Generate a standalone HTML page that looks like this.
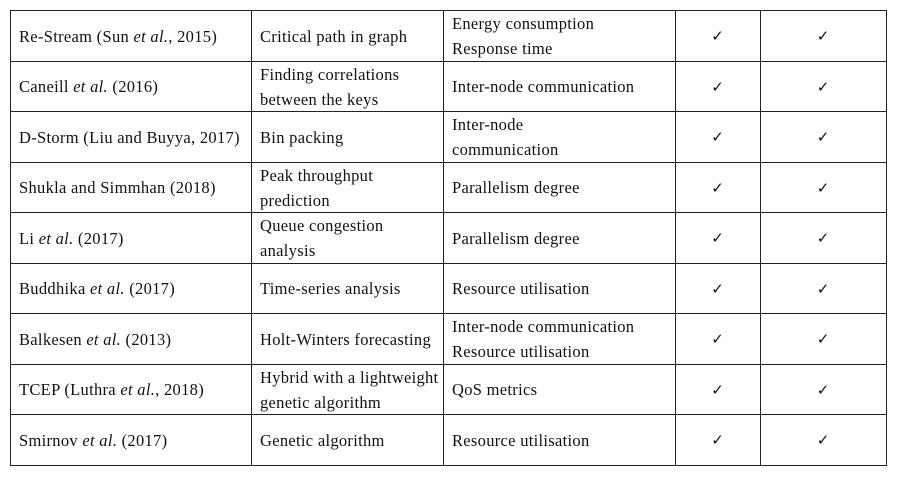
<!DOCTYPE html>
<html><head><meta charset="utf-8"><style>
body{margin:0;width:901px;height:482px;background:#fff;position:relative;overflow:hidden;font-family:"Liberation Serif",serif;font-size:16.5px;letter-spacing:0.3px;color:#111}
.h{position:absolute;left:10px;width:877px;height:1px;background:#222}
.v{position:absolute;top:10px;height:455px;width:1px;background:#222}
.c{position:absolute;display:flex;flex-direction:column;justify-content:center;line-height:25px;white-space:nowrap;padding-top:2px;box-sizing:border-box}
.k{position:absolute;width:40px;text-align:center;font-family:"DejaVu Sans",sans-serif;font-size:15px;letter-spacing:0}
</style></head><body>
<div id="t"></div>
<script>
const rows=[
["Re-Stream (Sun <i>et al.</i>, 2015)","Critical path in graph","Energy consumption<br>Response time"],
["Caneill <i>et al.</i> (2016)","Finding correlations<br>between the keys","Inter-node communication"],
["D-Storm (Liu and Buyya, 2017)","Bin packing","Inter-node<br>communication"],
["Shukla and Simmhan (2018)","Peak throughput<br>prediction","Parallelism degree"],
["Li <i>et al.</i> (2017)","Queue congestion<br>analysis","Parallelism degree"],
["Buddhika <i>et al.</i> (2017)","Time-series analysis","Resource utilisation"],
["Balkesen <i>et al.</i> (2013)","Holt-Winters forecasting","Inter-node communication<br>Resource utilisation"],
["TCEP (Luthra <i>et al.</i>, 2018)","Hybrid with a lightweight<br>genetic algorithm","QoS metrics"],
["Smirnov <i>et al.</i> (2017)","Genetic algorithm","Resource utilisation"]];
const cols=[10,251,443,675,760,886];
const t=document.getElementById('t');
const rh=50.5;
for(let i=0;i<=rows.length;i++){const d=document.createElement('div');d.className='h';d.style.top=(10+i*rh)+'px';


t.appendChild(d);}
cols.forEach(x=>{const d=document.createElement('div');d.className='v';d.style.left=x+'px';


t.appendChild(d);});
rows.forEach((r,i)=>{const top=10+i*rh;
r.forEach((txt,j)=>{const d=document.createElement('div');d.className='c';
const s=document.createElement('span');s.innerHTML=txt;d.appendChild(s);
d.style.left=(cols[j]+9)+'px';d.style.top=top+'px';d.style.height=rh+'px';


t.appendChild(d);});
[3,4].forEach(j=>{const k=document.createElement('div');k.className='k';k.textContent='✓';
k.style.left=((cols[j]+cols[j+1])/2-20)+'px';k.style.top=(top+17)+'px';


t.appendChild(k);});
});
</script>
</body></html>
